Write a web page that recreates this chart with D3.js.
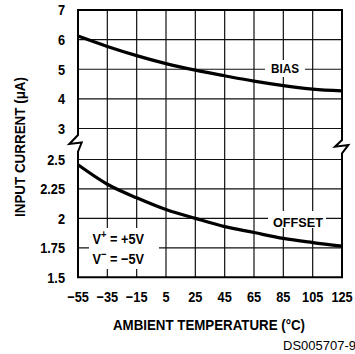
<!DOCTYPE html>
<html><head><meta charset="utf-8">
<script src="https://cdn.jsdelivr.net/npm/d3@7"></script>
<style>
html,body{margin:0;padding:0;background:#fff;}
svg{display:block;}
.cond{font-family:"Liberation Sans",Arial,sans-serif;font-weight:bold;}
</style></head>
<body>
<svg id="chart" width="355" height="354"></svg>
<script>
const temps = [-55, -35, -15, 5, 25, 45, 65, 85, 105, 125];
const biasCurrent = [6.12, 5.77, 5.46, 5.19, 4.97, 4.78, 4.60, 4.45, 4.33, 4.27];
const offsetCurrent = [2.455, 2.29, 2.175, 2.075, 2.0, 1.93, 1.88, 1.83, 1.795, 1.765];
const upperTicks = [3, 4, 5, 6, 7];
const upperLabels = ["3", "4", "5", "6", "7"];
const lowerTicks = [1.5, 1.75, 2, 2.25, 2.5];
const lowerLabels = ["1.5", "1.75", "2", "2.25", "2.5"];
const xTickLabels = ["\u221255", "\u221235", "\u221215", "5", "25", "45", "65", "85", "105", "125"];

const L = 78, R = 342, T = 10, B = 277.3;
const SX = 0.85;
const svg = d3.select("#chart");
const x = d3.scaleLinear().domain([-55, 125]).range([L, R]);
const yU = d3.scaleLinear().domain([3, 7]).range([128.5, T]);
const yL = d3.scaleLinear().domain([1.5, 2.5]).range([B, 159.5]);

const g = svg.append("g");
g.selectAll("line.v").data(temps.slice(1, -1)).enter().append("line")
  .attr("x1", d => x(d)).attr("x2", d => x(d)).attr("y1", T).attr("y2", B)
  .attr("stroke", "#111").attr("stroke-width", 1.2);
g.selectAll("line.hu").data(upperTicks.slice(0, -1)).enter().append("line")
  .attr("x1", L).attr("x2", R).attr("y1", d => yU(d)).attr("y2", d => yU(d))
  .attr("stroke", "#111").attr("stroke-width", 1.2);
g.selectAll("line.hl").data(lowerTicks.slice(1)).enter().append("line")
  .attr("x1", L).attr("x2", R).attr("y1", d => yL(d)).attr("y2", d => yL(d))
  .attr("stroke", "#111").attr("stroke-width", 1.2);

g.append("line").attr("x1", L - 1).attr("x2", R + 1).attr("y1", T).attr("y2", T).attr("stroke", "#000").attr("stroke-width", 2);
g.append("line").attr("x1", L - 1).attr("x2", R + 1).attr("y1", B).attr("y2", B).attr("stroke", "#000").attr("stroke-width", 2);
g.append("path").attr("d", `M${L},${T} V135 L69.3,144 L81.7,142.5 L${L},151.7 V${B}`)
  .attr("fill", "none").attr("stroke", "#000").attr("stroke-width", 2);
g.append("path").attr("d", `M${R},${T} V140 L335,146.7 L348.3,145 L${R},153.3 V${B}`)
  .attr("fill", "none").attr("stroke", "#000").attr("stroke-width", 2);

g.append("rect").attr("x", 265).attr("y", 60).attr("width", 40).attr("height", 17).attr("fill", "#fff");
g.append("rect").attr("x", 268).attr("y", 211).attr("width", 58).attr("height", 17).attr("fill", "#fff");
g.append("rect").attr("x", 89).attr("y", 228).attr("width", 70).attr("height", 41).attr("fill", "#fff");

const line = (ys, data) => d3.line().x((d, i) => x(temps[i])).y(d => ys(d)).curve(d3.curveMonotoneX)(data);
g.append("path").attr("d", line(yU, biasCurrent)).attr("fill", "none").attr("stroke", "#000").attr("stroke-width", 3.2);
g.append("path").attr("d", line(yL, offsetCurrent)).attr("fill", "none").attr("stroke", "#000").attr("stroke-width", 3.2);

function condText(parent, tx, ty, anchor, size, str) {
  return parent.append("text").attr("class", "cond")
    .attr("transform", `translate(${tx},${ty}) scale(${SX},1)`)
    .attr("text-anchor", anchor).attr("font-size", size).attr("fill", "#000").text(str);
}
const tl = svg.append("g");
upperTicks.forEach((d, i) => condText(tl, 65, yU(d) + 5.3, "end", 15, upperLabels[i]));
lowerTicks.forEach((d, i) => condText(tl, 65, yL(d) + 5.3, "end", 15, lowerLabels[i]));
temps.forEach((d, i) => condText(tl, x(d), 301.7, "middle", 15, xTickLabels[i]));

svg.append("text").attr("class", "cond").attr("font-size", 13.5).attr("x", 271).attr("y", 73.3)
  .attr("textLength", 28).attr("lengthAdjust", "spacingAndGlyphs").text("BIAS");
svg.append("text").attr("class", "cond").attr("font-size", 13.5).attr("x", 273).attr("y", 226.5)
  .attr("textLength", 50).attr("lengthAdjust", "spacingAndGlyphs").text("OFFSET");

const cl = svg.append("g");
const t1 = condText(cl, 92.5, 244, "start", 15, "V");
t1.append("tspan").attr("dy", -6).attr("font-size", 11).text("+");
t1.append("tspan").attr("dy", 6).text(" = +5V");
const t2 = condText(cl, 92.5, 264.3, "start", 15, "V");
t2.append("tspan").attr("dy", -6).attr("font-size", 11).text("\u2212");
t2.append("tspan").attr("dy", 6).text(" = \u22125V");

svg.append("text").attr("class", "cond").attr("font-size", 14).attr("x", 113).attr("y", 330)
  .attr("textLength", 192).attr("lengthAdjust", "spacingAndGlyphs").text("AMBIENT TEMPERATURE (\u00B0C)");
svg.append("text").attr("class", "cond").attr("font-size", 14)
  .attr("transform", "translate(25,217) rotate(-90)")
  .attr("textLength", 140).attr("lengthAdjust", "spacingAndGlyphs").text("INPUT CURRENT (\u03BCA)");

svg.append("text").attr("x", 283).attr("y", 350).attr("font-family", "Liberation Sans, Arial, sans-serif")
  .attr("font-size", 13).attr("fill", "#000").text("DS005707-9");
</script>
</body></html>
